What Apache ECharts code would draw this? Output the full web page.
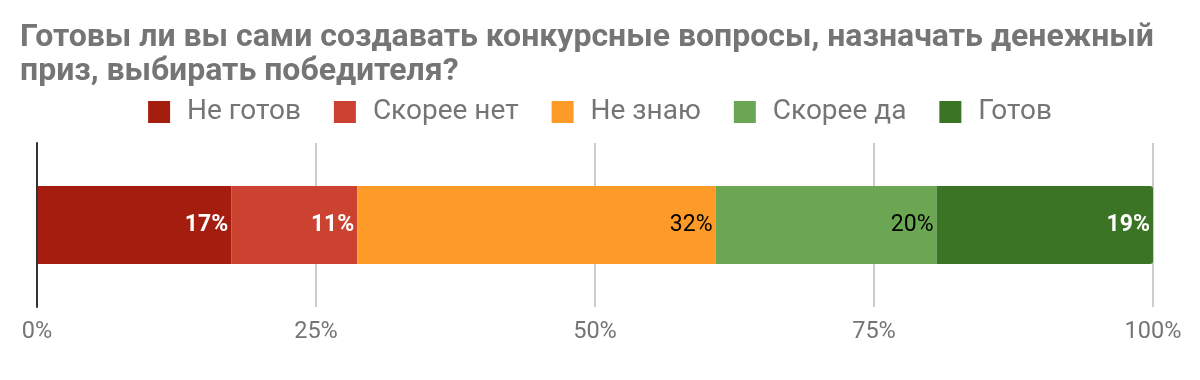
<!DOCTYPE html>
<html>
<head>
<meta charset="utf-8">
<script src="https://cdn.jsdelivr.net/npm/echarts@6/dist/echarts.min.js"></script>
<style>html,body{margin:0;padding:0;background:#fff}#c{width:1200px;height:380px}</style>
</head>
<body>
<div id="c"></div>
<script>
const titleText = 'Готовы ли вы сами создавать конкурсные вопросы, назначать денежный\nприз, выбирать победителя?';
const categories = [''];
const seriesNames = ['Не готов', 'Скорее нет', 'Не знаю', 'Скорее да', 'Готов'];
const seriesValues = [17.4, 11.3, 32.1, 19.8, 19.4];
const seriesColors = ['#A51D0E', '#CB4231', '#FD9A28', '#6BA753', '#3B7424'];
const labelColors = ['#ffffff', '#ffffff', '#000000', '#000000', '#ffffff'];
const tickLabels = ['0%', '25%', '50%', '75%', '100%'];

const chart = echarts.init(document.getElementById('c'));
const series = seriesNames.map((name, i) => ({
  name: name,
  type: 'bar',
  stack: 'total',
  barWidth: 78,
  data: [seriesValues[i]],
  itemStyle: {
    color: seriesColors[i],
    borderRadius: i === seriesNames.length - 1 ? [0, 3, 3, 0] : 0
  },
  label: {
    show: true,
    position: 'insideRight',
    distance: 3,
    color: labelColors[i],
    fontFamily: 'Roboto',
    fontSize: 23,
    fontWeight: labelColors[i] === '#ffffff' ? 'bold' : 'normal',
    formatter: p => Math.round(p.value) + '%'
  }
}));

chart.setOption({
  animation: false,
  backgroundColor: '#ffffff',
  textStyle: { fontFamily: 'Roboto' },
  title: {
    text: titleText,
    left: 20,
    top: 21,
    padding: [0, 0, 0, 0],
    textStyle: {
      fontFamily: 'Roboto',
      fontSize: 32,
      fontWeight: 'bold',
      color: '#757575',
      lineHeight: 34
    }
  },
  legend: {
    data: seriesNames,
    top: 93,
    left: 'center',
    itemWidth: 22,
    itemHeight: 22,
    itemGap: 33,
    icon: 'rect',
    textStyle: { fontFamily: 'Roboto', fontSize: 28, color: '#757575', padding: [0, 0, 0, 12] }
  },
  grid: { left: 37, right: 47, top: 143, bottom: 73, containLabel: false },
  xAxis: {
    type: 'value',
    min: 0,
    max: 100,
    interval: 25,
    axisLine: { show: false },
    axisTick: { show: false },
    axisLabel: {
      margin: 13,
      fontFamily: 'Roboto',
      fontSize: 23.5,
      color: '#757575',
      formatter: v => tickLabels[v / 25]
    },
    splitLine: { show: true, lineStyle: { color: '#cccccc', width: 2 } }
  },
  yAxis: {
    type: 'category',
    data: categories,
    axisLine: { show: true, lineStyle: { color: '#333333', width: 2 } },
    axisTick: { show: false },
    axisLabel: { show: false },
    splitLine: { show: false },
    z: 10
  },
  series: series
});
</script>
</body>
</html>
